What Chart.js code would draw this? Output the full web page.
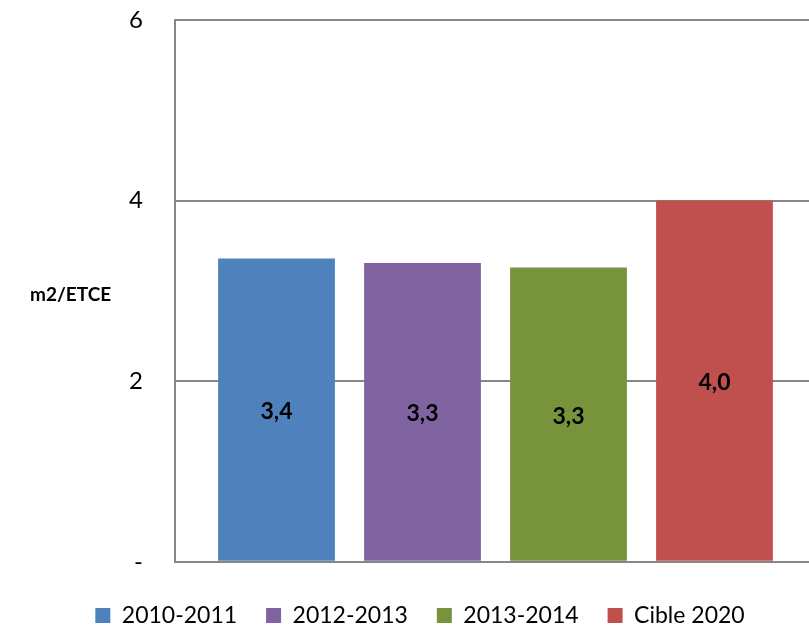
<!DOCTYPE html>
<html>
<head>
<meta charset="utf-8">
<script src="https://cdn.jsdelivr.net/npm/chart.js@4"></script>
<style>
html,body{margin:0;padding:0;background:#fff;overflow:hidden;}
#wrap{width:830px;height:625px;position:relative;}
</style>
</head>
<body>
<div id="wrap"><canvas id="c" width="830" height="625"></canvas></div>
<script>
const categories = [""];
const seriesNames = ["2010-2011", "2012-2013", "2013-2014", "Cible 2020"];
const seriesValues = [3.36, 3.31, 3.26, 4.0];
const seriesColors = ["#4F81BD", "#8064A2", "#77933C", "#C0504D"];
const yTicks = [0, 2, 4, 6];
const yTitle = "m2/ETCE";

const FONT = "Lato, 'Open Sans', sans-serif";

const labelPlugin = {
  id: 'valueLabels',
  afterDatasetsDraw(chart) {
    const ctx = chart.ctx;
    ctx.save();
    ctx.font = "bold 23px " + FONT;
    ctx.fillStyle = "#000";
    ctx.textAlign = "center";
    ctx.textBaseline = "middle";
    chart.data.datasets.forEach((ds, i) => {
      const meta = chart.getDatasetMeta(i);
      meta.data.forEach((el, j) => {
        const v = ds.data[j];
        const txt = v.toFixed(1).replace('.', ',');
        ctx.fillText(txt, el.x, (el.y + el.base) / 2 + 2);
      });
    });
    ctx.font = "bold 19px " + FONT;
    ctx.textAlign = "left";
    ctx.fillText(yTitle, 30, 295);
    ctx.restore();
  }
};

const datasets = seriesNames.map((n, i) => ({
  label: n,
  data: [seriesValues[i]],
  backgroundColor: seriesColors[i],
  borderWidth: 0,
  categoryPercentage: 0.911,
  barPercentage: 0.80
}));

new Chart(document.getElementById('c'), {
  type: 'bar',
  data: { labels: categories, datasets },
  plugins: [labelPlugin],
  options: {
    responsive: false,
    animation: false,
    layout: { padding: { top: 0, right: 14, left: 24, bottom: -12 } },
    plugins: {
      legend: {
        position: 'bottom',
        title: { display: true, text: ' ', font: { size: 1 }, padding: 2 },
        labels: {
          font: { family: FONT, size: 23 },
          color: '#000',
          boxWidth: 15,
          boxHeight: 15,
          padding: 29
        }
      },
      tooltip: { enabled: false }
    },
    scales: {
      x: {
        ticks: { display: false },
        grid: { display: false },
        border: { display: true, color: '#868686', width: 2 }
      },
      y: {
        min: 0, max: 6,
        afterBuildTicks(scale) { scale.ticks = yTicks.map(v => ({ value: v })); },
        afterFit(scale) { scale.width = 151; scale.paddingTop = 20; },
        ticks: {
          font: { family: FONT, size: 24, lineHeight: 1 },
          color: '#000',
          padding: 32,
          callback: v => v === 0 ? '-' : String(v)
        },
        grid: { color: '#868686', lineWidth: 2, drawTicks: false },
        border: { display: true, color: '#868686', width: 2 }
      }
    }
  }
});
</script>
</body>
</html>
